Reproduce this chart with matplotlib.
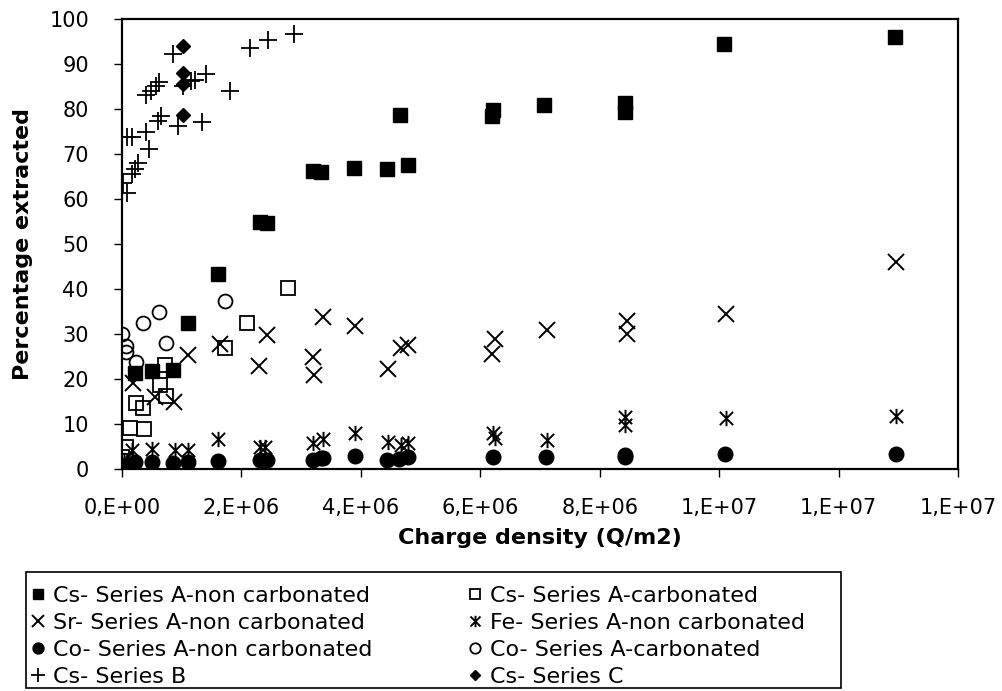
import numpy as np
import matplotlib
matplotlib.use("Agg")
import matplotlib.pyplot as plt
from matplotlib.path import Path
from matplotlib.patches import Rectangle

# x in units of 1e6 Q/m2, y in % extracted
cs_a_nc_x = [0.0, 0.22, 0.50, 0.86, 1.11, 1.60, 2.31, 2.42, 3.20, 3.34, 3.88, 4.44, 4.65, 4.79,
             6.20, 6.21, 7.07, 8.43, 8.43, 10.08, 12.94]
cs_a_nc_y = [0.0, 21.4, 21.8, 22.0, 32.4, 43.4, 54.8, 54.6, 66.3, 65.9, 66.9, 66.7, 78.7, 67.6,
             78.5, 79.8, 80.9, 79.4, 81.4, 94.4, 95.9]

cs_a_c_x = [0.0, 0.07, 0.13, 0.37, 0.23, 0.36, 0.64, 0.74, 0.72, 1.73, 2.10, 2.78]
cs_a_c_y = [2.6, 4.9, 9.1, 8.9, 14.7, 13.6, 18.6, 16.2, 23.2, 27.0, 32.4, 40.2]

sr_x = [0.19, 0.55, 0.87, 1.11, 1.64, 2.30, 2.43, 3.20, 3.22, 3.36, 3.90, 4.46, 4.67, 4.79,
        6.20, 6.24, 7.11, 8.45, 8.45, 10.11, 12.97]
sr_y = [19.2, 16.0, 14.9, 25.3, 27.7, 22.8, 29.7, 24.9, 20.8, 33.7, 31.8, 22.3, 26.8, 27.5,
        25.5, 28.8, 30.8, 33.0, 30.1, 34.5, 46.1]

fe_x = [0.03, 0.16, 0.50, 0.89, 1.11, 1.60, 2.31, 2.39, 3.20, 3.36, 3.90, 4.46, 4.67, 4.79,
        6.21, 6.24, 7.11, 8.43, 8.43, 10.11, 12.97]
fe_y = [2.0, 4.2, 4.4, 4.2, 4.2, 6.6, 5.0, 4.8, 5.7, 6.6, 7.9, 6.1, 5.3, 5.7,
        7.9, 7.0, 6.4, 11.6, 9.8, 11.4, 11.8]

co_nc_x = [0.07, 0.22, 0.50, 0.86, 1.11, 1.60, 2.31, 2.42, 3.20, 3.34, 3.36, 3.90, 4.43, 4.64,
           4.79, 6.21, 7.10, 8.43, 8.43, 10.10, 12.96]
co_nc_y = [1.0, 1.6, 1.6, 1.4, 1.6, 1.8, 2.0, 2.0, 2.0, 2.4, 2.4, 2.9, 2.0, 2.2,
           2.6, 2.6, 2.6, 3.1, 2.7, 3.3, 3.3]

co_c_x = [0.0, 0.06, 0.06, 0.23, 0.35, 0.62, 0.73, 1.73]
co_c_y = [30.0, 27.4, 26.0, 23.7, 32.4, 34.9, 27.9, 37.3]

cs_b_x = [0.02, 0.08, 0.08, 0.16, 0.16, 0.22, 0.27, 0.41, 0.41, 0.46, 0.48, 0.57, 0.61, 0.62,
          0.66, 0.86, 0.94, 1.02, 1.16, 1.22, 1.34, 1.40, 1.81, 2.14, 2.45, 2.88]
cs_b_y = [63.5, 61.3, 73.7, 73.7, 65.6, 66.7, 67.9, 75.0, 83.1, 71.1, 83.9, 85.1, 77.4, 86.0,
          78.5, 92.2, 76.3, 85.1, 86.3, 86.5, 77.2, 87.7, 83.9, 93.6, 95.3, 96.6]

cs_c_x = [1.015, 1.015, 1.015, 1.015]
cs_c_y = [94.0, 88.1, 85.5, 78.6]

x_ticks = [0, 2, 4, 6, 8, 10, 12, 14]
x_tick_labels = ["0,E+00", "2,E+06", "4,E+06", "6,E+06", "8,E+06", "1,E+07", "1,E+07", "1,E+07"]

plt.rcParams["font.family"] = ["DejaVu Sans"]

# X with a vertical bar, like the Excel star marker
star = Path([(-1, -1), (1, 1), (-1, 1), (1, -1), (0, -1.15), (0, 1.15)],
            [Path.MOVETO, Path.LINETO, Path.MOVETO, Path.LINETO, Path.MOVETO, Path.LINETO])

W, H = 1003, 691
fig = plt.figure(figsize=(W / 100, H / 100), dpi=100)
ax = fig.add_axes([122 / W, 1 - 469 / H, (958 - 122) / W, (469 - 19) / H])

def serie(x, y, label, **kw):
    xs = np.array(x) * 1e6
    return ax.plot(xs, y, linestyle="none", color="black", label=label, **kw)[0]

h1 = serie(cs_a_nc_x, cs_a_nc_y, "Cs- Series A-non carbonated", marker="s", markersize=10.5)
h2 = serie(cs_a_c_x, cs_a_c_y, "Cs- Series A-carbonated", marker="s", markersize=10,
           markerfacecolor="none", markeredgewidth=1.3)
h3 = serie(sr_x, sr_y, "Sr- Series A-non carbonated", marker="x", markersize=11, markeredgewidth=1.4)
h4 = serie(fe_x, fe_y, "Fe- Series A-non carbonated", marker=star, markersize=11, markeredgewidth=1.4)
h5 = serie(co_nc_x, co_nc_y, "Co- Series A-non carbonated", marker="o", markersize=10.5)
h6 = serie(co_c_x, co_c_y, "Co- Series A-carbonated", marker="o", markersize=10,
           markerfacecolor="none", markeredgewidth=1.3)
h7 = serie(cs_b_x, cs_b_y, "Cs- Series B", marker="+", markersize=12.5, markeredgewidth=1.3)
h8 = serie(cs_c_x, cs_c_y, "Cs- Series C", marker="D", markersize=7)

ax.set_xlim(0, 1.4e7)
ax.set_ylim(0, 100)
ax.set_xticks([t * 1e6 for t in x_ticks])
ax.set_xticklabels(x_tick_labels)
ax.set_yticks(range(0, 101, 10))
ax.tick_params(axis="both", direction="out", length=5.8, width=1, labelsize=15, colors="black")
ax.tick_params(axis="x", pad=15)
ax.tick_params(axis="y", pad=18)
for s in ax.spines.values():
    s.set_linewidth(1.6)
    s.set_color("black")

ax.set_xlabel("Charge density (Q/m2)", fontsize=16, fontweight="bold", labelpad=7)
ax.set_ylabel("Percentage extracted", fontsize=16, fontweight="bold", labelpad=12)

# legend box drawn by hand, entries in two rows-first columns
fig.patches.append(Rectangle((26 / W, 1 - 688 / H), (841 - 26) / W, (688 - 572) / H,
                             transform=fig.transFigure, fill=False, edgecolor="black", linewidth=1.2))
handles = [h1, h3, h5, h7, h2, h4, h6, h8]
leg = fig.legend(handles=handles, labels=[h.get_label() for h in handles], ncol=2,
                 loc="upper left", bbox_to_anchor=(31 / W, 1 - 586 / H),
                 fontsize=16, frameon=False, handlelength=0.6, handletextpad=0.4,
                 markerscale=0.75, borderpad=0, labelspacing=0.31, columnspacing=4.3,
                 borderaxespad=0)

fig.savefig("out.png", dpi=100)
